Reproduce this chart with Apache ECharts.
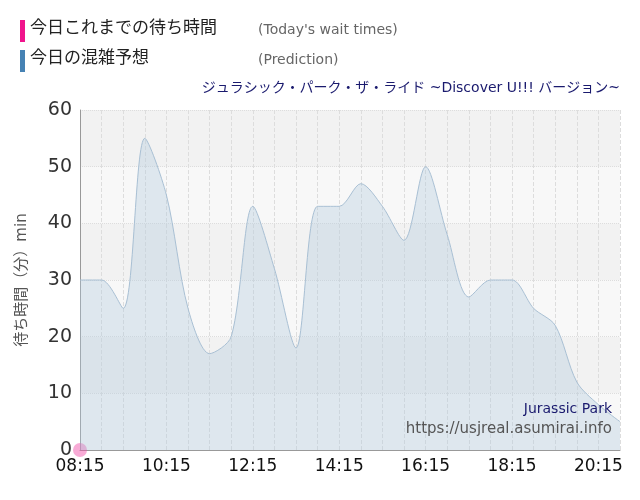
<!DOCTYPE html><html><head><meta charset="utf-8"><script src="https://cdn.jsdelivr.net/npm/echarts@6/dist/echarts.min.js"></script>
<style>body{margin:0}#c{width:640px;height:500px}</style></head><body><div id="c"></div><script>
const times=['08:15','08:45','09:15','09:45','10:15','10:45','11:15','11:45','12:15','12:45','13:15','13:45','14:15','14:45','15:15','15:45','16:15','16:45','17:15','17:45','18:15','18:45','19:15','19:45','20:15','20:45'];
const prediction=[30,30,25,55,45,25,17,20,43,32,18,43,43,47,43,37,50,38,27,30,30,25,22,12,8,5];
const today=[0];
const yTicks=[0,10,20,30,40,50,60];
const F='"DejaVu Sans","Noto Sans CJK JP",sans-serif';
const ch=echarts.init(document.getElementById('c'));
ch.setOption({animation:false,
grid:{left:80,right:20,top:110,bottom:50},
graphic:[
{type:'rect',left:20,top:20,shape:{width:5,height:22},style:{fill:'#f0148c'}},
{type:'text',left:30,top:20,style:{text:'今日これまでの待ち時間',font:'17px '+F,fill:'#222'}},
{type:'text',left:258,top:23,style:{text:"(Today's wait times)",font:'14px '+F,fill:'#666'}},
{type:'rect',left:20,top:50,shape:{width:5,height:22},style:{fill:'#4682b4'}},
{type:'text',left:30,top:50,style:{text:'今日の混雑予想',font:'17px '+F,fill:'#222'}},
{type:'text',left:258,top:53,style:{text:'(Prediction)',font:'14px '+F,fill:'#666'}},
{type:'text',right:20,top:81,z:100,style:{text:'ジュラシック・パーク・ザ・ライド ~Discover U!!! バージョン~',font:'14px '+F,fill:'#1a1a6e'}},
{type:'text',right:28,top:402,z:100,style:{text:'Jurassic Park',font:'14px '+F,fill:'#1a1a6e'}},
{type:'text',right:28,top:422,z:100,style:{text:'https://usjreal.asumirai.info',font:'15px '+F,fill:'#555'}}
],
xAxis:{type:'category',data:times,boundaryGap:false,
axisLine:{lineStyle:{color:'#999'}},axisTick:{show:false},
axisLabel:{interval:3,formatter:(v,i)=>i%4===0?v:'',color:'#111',fontSize:17,fontFamily:F,margin:8},
splitLine:{show:true,interval:0,lineStyle:{color:'#ddd',type:'dashed'}}},
yAxis:{type:'value',min:0,max:60,interval:10,name:'待ち時間（分）min',nameLocation:'middle',nameGap:50,
nameTextStyle:{color:'#555',fontSize:15,fontFamily:F},
axisLine:{show:true,lineStyle:{color:'#999'}},
axisLabel:{color:'#333',fontSize:19,fontFamily:F,formatter:v=>yTicks.includes(v)?v:''},
splitLine:{lineStyle:{color:'#ddd',type:'dotted'}},
splitArea:{show:true,areaStyle:{color:['#f8f8f8','#f2f2f2']}}},
series:[
{type:'line',data:prediction,smooth:0.3,symbol:'none',lineStyle:{color:'#a9c0d4',width:1},areaStyle:{color:'rgba(176,200,222,0.5)'}},
{type:'scatter',data:today,symbolSize:14,itemStyle:{color:'rgba(240,80,170,0.6)'}}
]});
</script></body></html>
